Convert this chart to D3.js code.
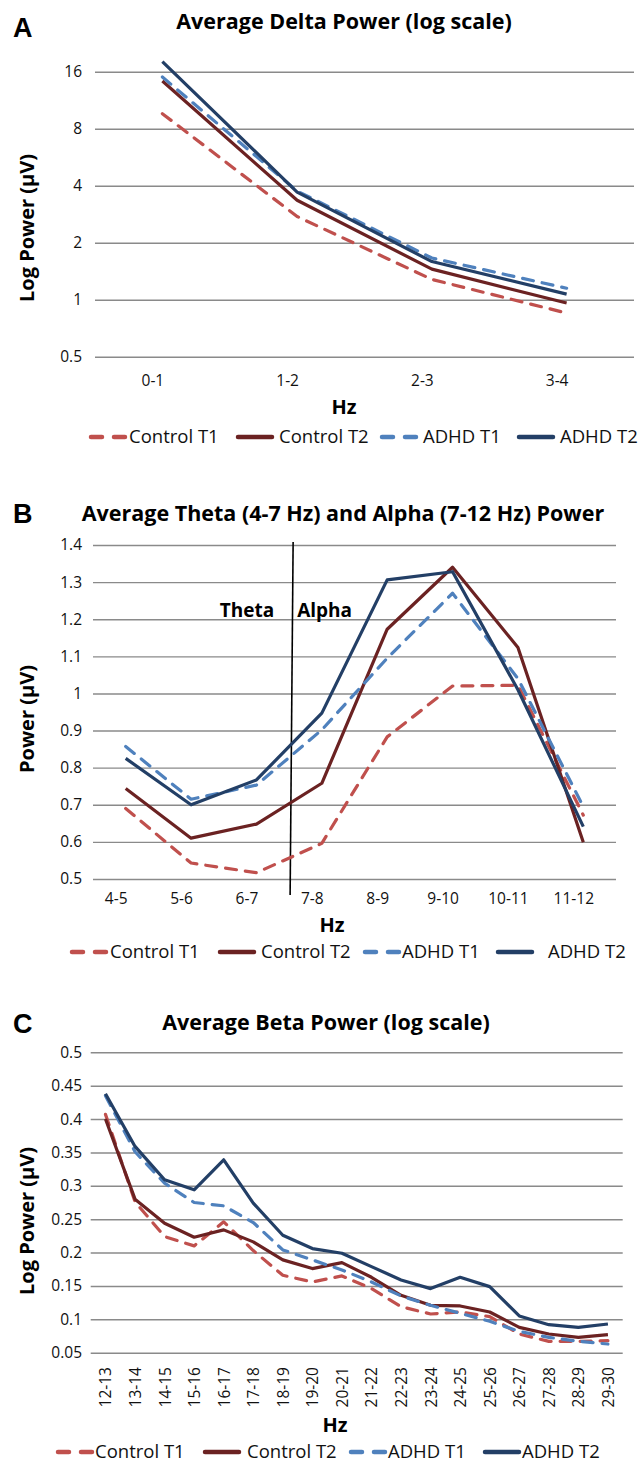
<!DOCTYPE html>
<html lang="en">
<head>
  <meta charset="UTF-8" />
  <title>Average EEG Power</title>
  <script src="https://d3js.org/d3.v7.min.js"></script>
  <style>
    body { margin: 0; background: #fff; }
    svg { display: block; font-family: "Open Sans", Lato, sans-serif; }
    .grid line { stroke: #8a8a8a; stroke-width: 1.4px; }
    .tick text { fill: #111; font-size: 15.5px; font-family: "Open Sans", sans-serif; }
    .series { fill: none; stroke-width: 3.2px; stroke-linejoin: round; }
  </style>
</head>
<body>
  <svg width="643" height="1466"></svg>
  <script>
    // series names + colours
    const seriesNames = ["Control T1", "Control T2", "ADHD T1", "ADHD T2"];
    const seriesColors = ["#c0504d", "#6b2222", "#4f81bd", "#233f66"];
    const seriesDashed = [true, false, true, false];

    // A: delta (log2 axis)
    const deltaBands = ["0-1", "1-2", "2-3", "3-4"];
    const deltaTicks = [0.5, 1, 2, 4, 8, 16];
    const deltaControlT1 = [9.6, 2.75, 1.28, 0.85];
    const deltaControlT2 = [14.3, 3.35, 1.45, 0.96];
    const deltaAdhdT1 = [15.0, 3.75, 1.66, 1.15];
    const deltaAdhdT2 = [18.1, 3.7, 1.59, 1.07];

    // B: theta + alpha
    const thetaAlphaBands = ["4-5", "5-6", "6-7", "7-8", "8-9", "9-10", "10-11", "11-12"];
    const thetaAlphaTicks = [0.5, 0.6, 0.7, 0.8, 0.9, 1, 1.1, 1.2, 1.3, 1.4];
    const thetaAlphaControlT1 = [0.69, 0.543, 0.517, 0.596, 0.883, 1.02, 1.022, 0.672];
    const thetaAlphaControlT2 = [0.744, 0.61, 0.648, 0.758, 1.173, 1.34, 1.124, 0.599];
    const thetaAlphaAdhdT1 = [0.857, 0.715, 0.753, 0.902, 1.095, 1.27, 1.04, 0.695];
    const thetaAlphaAdhdT2 = [0.825, 0.70, 0.767, 0.947, 1.306, 1.328, 1.01, 0.641];

    // C: beta
    const betaBands = ["12-13", "13-14", "14-15", "15-16", "16-17", "17-18", "18-19", "19-20", "20-21",
      "21-22", "22-23", "23-24", "24-25", "25-26", "26-27", "27-28", "28-29", "29-30"];
    const betaTicks = [0.05, 0.1, 0.15, 0.2, 0.25, 0.3, 0.35, 0.4, 0.45, 0.5];
    const betaControlT1 = [0.407, 0.276, 0.224, 0.21, 0.246, 0.203, 0.166, 0.156, 0.165,
      0.146, 0.119, 0.108, 0.111, 0.104, 0.078, 0.067, 0.067, 0.068];
    const betaControlT2 = [0.40, 0.28, 0.244, 0.223, 0.234, 0.216, 0.189, 0.176, 0.185,
      0.163, 0.136, 0.121, 0.12, 0.111, 0.088, 0.078, 0.073, 0.077];
    const betaAdhdT1 = [0.435, 0.351, 0.304, 0.275, 0.27, 0.245, 0.204, 0.189, 0.174,
      0.156, 0.135, 0.121, 0.109, 0.097, 0.082, 0.073, 0.067, 0.063];
    const betaAdhdT2 = [0.438, 0.359, 0.309, 0.294, 0.339, 0.274, 0.226, 0.206, 0.199,
      0.179, 0.159, 0.146, 0.163, 0.149, 0.105, 0.092, 0.088, 0.093];

    const svg = d3.select("svg");

    const panels = [
      {
        letter: "A", letterY: 37, title: "Average Delta Power (log scale)", titleX: 344, titleY: 29,
        yTitle: "Log Power (\u00b5V)", yTitleY: 228,
        bands: deltaBands, ticks: deltaTicks,
        series: [deltaControlT1, deltaControlT2, deltaAdhdT1, deltaAdhdT2],
        y: d3.scaleLog().base(2).domain([0.5, 16]).range([356.7, 71.7]),
        x0: 95, x1: 634, xLabelY: 386, xLabelShift: -10, rotate: false,
        hzX: 344, hzY: 414, legendY: 437,
        legendSym: [89, 236, 380, 517], legendText: [129, 279, 423, 560]
      },
      {
        letter: "B", letterY: 523, title: "Average Theta (4-7 Hz) and Alpha (7-12 Hz) Power", titleX: 343, titleY: 521,
        yTitle: "Power (\u00b5V)", yTitleY: 719,
        bands: thetaAlphaBands, ticks: thetaAlphaTicks,
        series: [thetaAlphaControlT1, thetaAlphaControlT2, thetaAlphaAdhdT1, thetaAlphaAdhdT2],
        y: d3.scaleLinear().domain([0.5, 1.4]).range([879, 545]),
        x0: 93, x1: 616, xLabelY: 904, xLabelShift: -10, rotate: false,
        hzX: 332, hzY: 932, legendY: 952,
        legendSym: [70, 218, 363, 496], legendText: [110, 261, 402, 548]
      },
      {
        letter: "C", letterY: 1033, title: "Average Beta Power (log scale)", titleX: 326, titleY: 1030,
        yTitle: "Log Power (\u00b5V)", yTitleY: 1221,
        bands: betaBands, ticks: betaTicks,
        series: [betaControlT1, betaControlT2, betaAdhdT1, betaAdhdT2],
        y: d3.scaleLinear().domain([0.05, 0.5]).range([1352.7, 1052.3]),
        x0: 90.7, x1: 622.7, xLabelY: 1367, xLabelShift: 0, rotate: true,
        hzX: 335, hzY: 1432, legendY: 1452,
        legendSym: [56, 203, 349, 483], legendText: [95, 247, 388, 522]
      }
    ];

    panels.forEach(drawPanel);

    function drawPanel(p) {
      const x = d3.scalePoint().domain(p.bands).range([p.x0, p.x1]).padding(0.5);
      const g = svg.append("g");

      // gridlines + y tick labels
      g.append("g")
        .attr("class", "grid")
        .attr("transform", `translate(${p.x0},0)`)
        .call(d3.axisLeft(p.y)
          .tickValues(p.ticks)
          .tickFormat(d => d)
          .tickSizeInner(-(p.x1 - p.x0))
          .tickSizeOuter(0)
          .tickPadding(p.x0 - 82))
        .call(a => a.select(".domain").remove());

      // x labels
      const xa = g.append("g")
        .attr("transform", `translate(0,${p.xLabelY})`)
        .call(d3.axisBottom(x).tickSize(0).tickPadding(0))
        .call(a => a.select(".domain").remove());
      if (p.rotate) {
        xa.selectAll("text")
          .attr("transform", "rotate(-90)")
          .attr("text-anchor", "end")
          .attr("x", 0).attr("y", 0)
          .attr("dy", "0.35em");
      } else {
        xa.selectAll("text")
          .attr("x", p.xLabelShift)
          .attr("y", 0)
          .attr("dy", 0);
      }

      // theta / alpha divider for panel B
      if (p.letter === "B") {
        const bx = x("6-7") + x.step() / 2;
        g.append("line")
          .attr("x1", bx + 4).attr("y1", 542)
          .attr("x2", bx + 1).attr("y2", 895)
          .attr("stroke", "#000").attr("stroke-width", 1.6);
        g.append("text").attr("x", bx - 15).attr("y", p.y(1.2) - 2)
          .attr("text-anchor", "end").attr("font-weight", "bold").attr("font-size", 19)
          .text("Theta");
        g.append("text").attr("x", bx + 8).attr("y", p.y(1.2) - 2)
          .attr("font-weight", "bold").attr("font-size", 19)
          .text("Alpha");
      }

      // series lines
      const line = d3.line()
        .x((d, i) => x(p.bands[i]))
        .y(d => p.y(d));
      p.series.forEach((vals, s) => {
        g.append("path")
          .datum(vals)
          .attr("class", "series")
          .attr("stroke", seriesColors[s])
          .attr("stroke-dasharray", seriesDashed[s] ? "11,9" : null)
          .attr("stroke-linecap", seriesDashed[s] ? "round" : "butt")
          .attr("d", line);
      });

      // titles
      g.append("text").attr("x", 13).attr("y", p.letterY)
        .attr("font-family", "'Liberation Sans', Arial, sans-serif")
        .attr("font-weight", "bold").attr("font-size", 27).text(p.letter);
      g.append("text").attr("x", p.titleX).attr("y", p.titleY)
        .attr("text-anchor", "middle").attr("font-weight", "bold").attr("font-size", 21.5)
        .text(p.title);
      g.append("text")
        .attr("transform", `translate(27,${p.yTitleY}) rotate(-90)`)
        .attr("text-anchor", "middle").attr("dy", "0.35em")
        .attr("font-weight", "bold").attr("font-size", 20)
        .text(p.yTitle);
      g.append("text").attr("x", p.hzX).attr("y", p.hzY)
        .attr("text-anchor", "middle").attr("font-weight", "bold").attr("font-size", 20)
        .text("Hz");

      // legend
      seriesNames.forEach((name, s) => {
        const sx = p.legendSym[s];
        g.append("line")
          .attr("x1", sx + 2).attr("x2", sx + 36)
          .attr("y1", p.legendY).attr("y2", p.legendY)
          .attr("stroke", seriesColors[s]).attr("stroke-width", 4.5)
          .attr("stroke-linecap", "round")
          .attr("stroke-dasharray", seriesDashed[s] ? "11,12" : null);
        g.append("text").attr("x", p.legendText[s]).attr("y", p.legendY)
          .attr("dy", "0.35em").attr("font-size", 18.5).attr("fill", "#111")
          .text(name);
      });
    }
  </script>
</body>
</html>
